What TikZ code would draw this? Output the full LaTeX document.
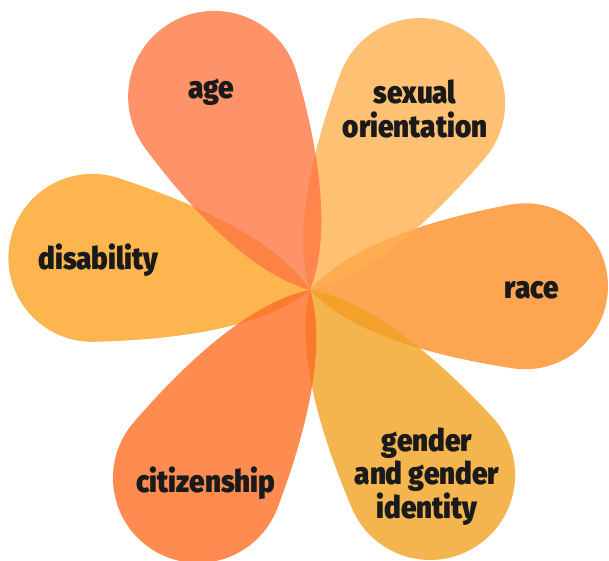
\documentclass[tikz,border=0pt]{standalone}
\usepackage{fontspec}
\newfontfamily\petalfont{Fira Sans Black}[FakeStretch=0.9]
\definecolor{cAge}{RGB}{254,119,66}
\definecolor{cDis}{RGB}{252,162,36}
\definecolor{cSex}{RGB}{254,177,81}
\definecolor{cRace}{RGB}{254,142,39}
\definecolor{cGen}{RGB}{241,161,34}
\definecolor{cCit}{RGB}{254,110,36}
\definecolor{labelgray}{RGB}{26,26,26}
\newcommand\flowerpetal[4]{%
  \fill[#4, opacity=0.8, shift={(310,270)}, rotate=#1]
    (0,0) .. controls (45,-50) and ({#2+#3*cos(260)-59.1},{#3*sin(260)+10.4}) ..
    ({#2+#3*cos(260)},{#3*sin(260)})
    arc[start angle=-100, end angle=100, radius=#3]
    .. controls ({#2+#3*cos(100)-59.1},{#3*sin(100)-10.4}) and (45,50) .. (0,0) -- cycle;}
\begin{document}
\begin{tikzpicture}[x=1pt,y=1pt,
  lab/.style={font=\petalfont\fontsize{31}{33.5}\selectfont, text=labelgray, inner sep=0pt, align=center}]
\useasboundingbox (0,0) rectangle (609,560);
\flowerpetal{171.6}{220}{84}{cDis}
\flowerpetal{1}{215}{83}{cRace}
\flowerpetal{-57}{220.5}{85}{cGen}
\flowerpetal{239.2}{218.8}{85}{cCit}
\flowerpetal{59.5}{217}{85}{cSex}
\flowerpetal{116.4}{215.6}{86}{cAge}
\node[lab, anchor=base] (age) at (211,461) {age};
\node[lab] (sex) at (415,451) {sexual\\orientation};
\node[lab, anchor=base] (dis) at (98.5,291) {disability};
\node[lab, anchor=base] (race) at (532,262) {race};
\node[lab, anchor=base] (cit) at (206,68) {citizenship};
\node[lab] (gen) at (427,83.5) {gender\\and gender\\identity};
\end{tikzpicture}
\end{document}
